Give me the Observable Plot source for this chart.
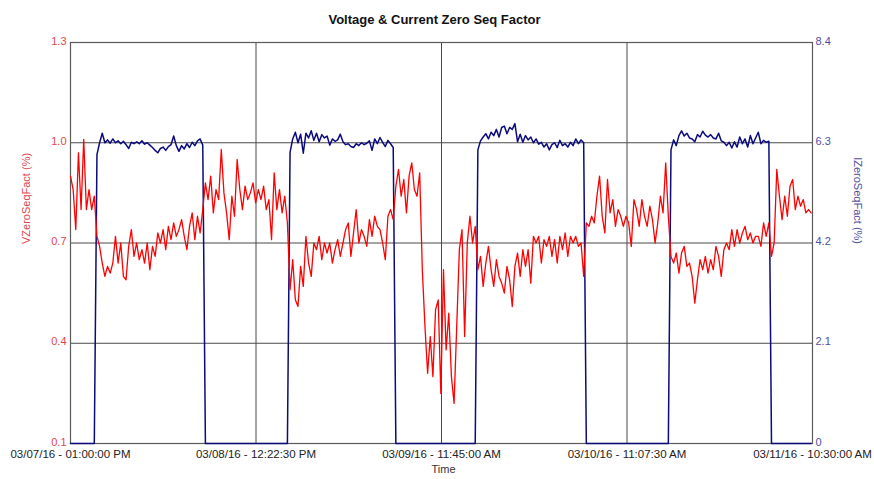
<!DOCTYPE html>
<html>
<head>
<meta charset="utf-8">
<script src="https://cdn.jsdelivr.net/npm/d3@7"></script>
<script src="https://cdn.jsdelivr.net/npm/@observablehq/plot@0.6"></script>
<style>
  html, body { margin: 0; padding: 0; background: #fff; }
  #chart svg { display: block; }
</style>
</head>
<body>
<div id="chart"></div>
<script>
// Sampling of the two series: one reading every 20 minutes from the start time
const startTime = "2016-03-07T13:00:00Z";
const endTime = "2016-03-11T10:30:00Z";
const stepMinutes = 20;

// Voltage zero sequence factor (%), left axis
const vzero = [
  0.90, 0.86, 0.74, 0.97, 0.80, 1.01, 0.80, 0.86, 0.80, 0.84,
  0.72, 0.69, 0.64, 0.60, 0.63, 0.61, 0.64, 0.72, 0.64, 0.70, 0.60, 0.59, 0.69, 0.74, 0.66, 0.70,
  0.65, 0.68, 0.64, 0.70, 0.62, 0.69, 0.66, 0.73, 0.70, 0.74, 0.68, 0.75, 0.71, 0.76, 0.72, 0.74,
  0.77, 0.72, 0.68, 0.75, 0.79, 0.71, 0.78, 0.73, 0.80,
  0.88, 0.83, 0.90, 0.79, 0.86, 0.83, 0.98, 0.85, 0.79, 0.71, 0.84, 0.78, 0.95, 0.86, 0.80, 0.87,
  0.83, 0.85, 0.88, 0.82, 0.86, 0.83, 0.87, 0.80, 0.83, 0.71, 0.91, 0.80, 0.86, 0.79, 0.84, 0.76,
  0.56, 0.65, 0.53, 0.51, 0.63, 0.57, 0.72, 0.64, 0.60, 0.70, 0.68, 0.72, 0.65, 0.70, 0.67, 0.70,
  0.64, 0.68, 0.71, 0.66, 0.70, 0.74, 0.76, 0.66, 0.73, 0.80, 0.70, 0.74, 0.72, 0.69, 0.77, 0.72,
  0.78, 0.75, 0.74, 0.70, 0.65, 0.78, 0.80, 0.77,
  0.87, 0.92, 0.84, 0.89, 0.79, 0.90, 0.94, 0.86, 0.84, 0.91,
  0.62, 0.45, 0.31, 0.42, 0.30, 0.50, 0.53, 0.25, 0.62, 0.38, 0.49, 0.30, 0.22, 0.45, 0.68, 0.74,
  0.42, 0.70, 0.78, 0.70, 0.75,
  0.62, 0.66, 0.57, 0.64, 0.69, 0.62, 0.57, 0.65, 0.60, 0.58, 0.55, 0.63, 0.59, 0.51, 0.63, 0.67,
  0.60, 0.68, 0.63, 0.68, 0.58, 0.72, 0.70, 0.72, 0.64, 0.71, 0.69, 0.72, 0.66, 0.71, 0.64, 0.72,
  0.68, 0.73, 0.66, 0.72, 0.70, 0.72, 0.69, 0.70, 0.60,
  0.76, 0.75, 0.78, 0.76, 0.84, 0.90, 0.78, 0.73, 0.89, 0.79, 0.83, 0.75, 0.80, 0.78, 0.75, 0.78,
  0.76, 0.69, 0.83, 0.80, 0.75, 0.83, 0.78, 0.75, 0.81, 0.77, 0.70, 0.76, 0.84, 0.79, 0.94, 0.78,
  0.66, 0.64, 0.67, 0.61, 0.67, 0.69, 0.63, 0.64, 0.60, 0.52, 0.59, 0.65, 0.62, 0.66, 0.61, 0.65,
  0.62, 0.69, 0.66, 0.60, 0.68, 0.70, 0.68, 0.74, 0.69, 0.74, 0.70, 0.73, 0.75, 0.71, 0.73, 0.70,
  0.72, 0.72, 0.69, 0.76, 0.72, 0.76,
  0.66, 0.70, 0.92, 0.84, 0.77, 0.84, 0.78, 0.87, 0.89, 0.80, 0.84, 0.81, 0.83, 0.79, 0.80, 0.79
];

// Current zero sequence factor (%), right axis
const izero = [
  0, 0, 0, 0, 0, 0, 0, 0, 0, 0,
  6.05, 6.30, 6.50, 6.30, 6.36, 6.29, 6.38, 6.30, 6.34, 6.28, 6.33, 6.26, 6.18, 6.31, 6.28, 6.32,
  6.28, 6.34, 6.27, 6.30, 6.25, 6.20, 6.14, 6.09, 6.18, 6.21, 6.14, 6.22, 6.26, 6.44, 6.24, 6.12,
  6.24, 6.17, 6.28, 6.20, 6.31, 6.24, 6.34, 6.38, 6.25,
  0, 0, 0, 0, 0, 0, 0, 0, 0, 0, 0, 0, 0, 0, 0, 0,
  0, 0, 0, 0, 0, 0, 0, 0, 0, 0, 0, 0, 0, 0, 0, 0,
  6.10, 6.38, 6.52, 6.30, 6.48, 6.08, 6.50, 6.40, 6.55, 6.35, 6.50, 6.32, 6.47, 6.40, 6.44, 6.25,
  6.38, 6.33, 6.36, 6.48, 6.32, 6.26, 6.28, 6.22, 6.20, 6.28, 6.24, 6.30, 6.26, 6.29, 6.34, 6.14,
  6.38, 6.28, 6.41, 6.31, 6.22, 6.35, 6.28, 6.20,
  0, 0, 0, 0, 0, 0, 0, 0, 0, 0, 0, 0, 0, 0, 0, 0,
  0, 0, 0, 0, 0, 0, 0, 0, 0, 0, 0, 0, 0, 0, 0,
  6.15, 6.34, 6.42, 6.49, 6.38, 6.52, 6.45, 6.58, 6.42, 6.62, 6.65, 6.49, 6.62, 6.58, 6.70, 6.32,
  6.48, 6.31, 6.45, 6.36, 6.42, 6.30, 6.38, 6.27, 6.31, 6.21, 6.28, 6.15, 6.26, 6.30, 6.20, 6.35,
  6.24, 6.28, 6.21, 6.31, 6.24, 6.38, 6.28, 6.36, 6.30,
  0, 0, 0, 0, 0, 0, 0, 0, 0, 0, 0, 0, 0, 0, 0, 0,
  0, 0, 0, 0, 0, 0, 0, 0, 0, 0, 0, 0, 0, 0, 0, 0,
  6.15, 6.36, 6.24, 6.45, 6.55, 6.44, 6.50, 6.40, 6.38, 6.32, 6.47, 6.42, 6.54, 6.46, 6.42, 6.47,
  6.40, 6.38, 6.50, 6.34, 6.31, 6.24, 6.31, 6.19, 6.32, 6.21, 6.42, 6.28, 6.38, 6.21, 6.45, 6.28,
  6.40, 6.52, 6.28, 6.35, 6.31, 6.33,
  0, 0, 0, 0, 0, 0, 0, 0, 0, 0, 0, 0, 0, 0, 0, 0
];

// Axis ticks and labels
const xTickTimes = [
  "2016-03-07T13:00:00Z", "2016-03-08T12:22:30Z", "2016-03-09T11:45:00Z",
  "2016-03-10T11:07:30Z", "2016-03-11T10:30:00Z"
];
const xTickLabels = [
  "03/07/16 - 01:00:00 PM", "03/08/16 - 12:22:30 PM", "03/09/16 - 11:45:00 AM",
  "03/10/16 - 11:07:30 AM", "03/11/16 - 10:30:00 AM"
];
const leftTicks = [0.1, 0.4, 0.7, 1.0, 1.3];
const rightTicks = [0, 2.1, 4.2, 6.3, 8.4];
const rightTickLabels = ["0", "2.1", "4.2", "6.3", "8.4"];

if (vzero.length !== izero.length) throw new Error(`length mismatch ${vzero.length} vs ${izero.length}`);

const t0 = new Date(startTime).getTime();
const rows = vzero.map((v, i) => ({
  t: new Date(t0 + i * stepMinutes * 60000),
  vz: v,
  iz: izero[i]
}));

// The right axis (0 .. 8.4) shares the plot frame with the left axis (0.1 .. 1.3)
const leftMin = 0.1, leftMax = 1.3, rightMax = 8.4;
const toLeft = (r) => leftMin + (r / rightMax) * (leftMax - leftMin);

const tickDates = xTickTimes.map((s) => new Date(s));
const labelByTime = new Map(tickDates.map((d, i) => [+d, xTickLabels[i]]));

const redLabel = "#e2464d";
const blueLabel = "#4f4fa0";

const chart = Plot.plot({
  width: 874,
  height: 479,
  marginLeft: 70,
  marginRight: 62,
  marginTop: 42,
  marginBottom: 36,
  style: { fontFamily: "'Liberation Sans', Arial, sans-serif", background: "#fff" },
  x: { type: "utc", domain: [new Date(startTime), new Date(endTime)] },
  y: { domain: [leftMin, leftMax] },
  marks: [
    Plot.gridY([0.4, 0.7, 1.0], { stroke: "#4a4a4a", strokeOpacity: 1, strokeWidth: 1 }),
    Plot.gridX(tickDates, { stroke: "#4a4a4a", strokeOpacity: 1, strokeWidth: 1 }),
    Plot.frame({ stroke: "#5a5a5a", strokeWidth: 1.2 }),
    Plot.line(rows, { x: "t", y: (d) => toLeft(d.iz), stroke: "#0b0b7e", strokeWidth: 1.5 }),
    Plot.line(rows, { x: "t", y: "vz", stroke: "#ff0000", strokeWidth: 1.3 }),
    Plot.axisY(leftTicks, {
      anchor: "left", tickSize: 0, tickPadding: 4, fontSize: 11, dy: -1.5,
      color: redLabel, label: null, tickFormat: d3.format(".1f")
    }),
    Plot.axisY(rightTicks.map(toLeft), {
      anchor: "right", tickSize: 0, tickPadding: 3, fontSize: 11, dy: -1.5,
      color: blueLabel, label: null,
      tickFormat: (v) => {
        const i = rightTicks.findIndex((r) => Math.abs(toLeft(r) - v) < 1e-9);
        return rightTickLabels[i];
      }
    }),
    Plot.axisX(tickDates, {
      anchor: "bottom", tickSize: 0, tickPadding: 6, fontSize: 11.5,
      color: "#222", label: null, tickFormat: (d) => labelByTime.get(+d)
    }),
    Plot.text(["Voltage & Current Zero Seq Factor"], {
      frameAnchor: "top", dx: -7, dy: -28, fontSize: 13, fontWeight: "bold", fill: "#111"
    }),
    Plot.text(["Time"], {
      frameAnchor: "bottom", dx: 2, dy: 29, fontSize: 11, fill: "#333"
    }),
    Plot.text(["VZeroSeqFact (%)"], {
      frameAnchor: "left", dx: -44, dy: 1, rotate: -90, fontSize: 11, fill: redLabel
    }),
    Plot.text(["IZeroSeqFact (%)"], {
      frameAnchor: "right", dx: 45, dy: 1, rotate: 90, fontSize: 11, fill: blueLabel
    })
  ]
});

document.getElementById("chart").appendChild(chart);
</script>
</body>
</html>
